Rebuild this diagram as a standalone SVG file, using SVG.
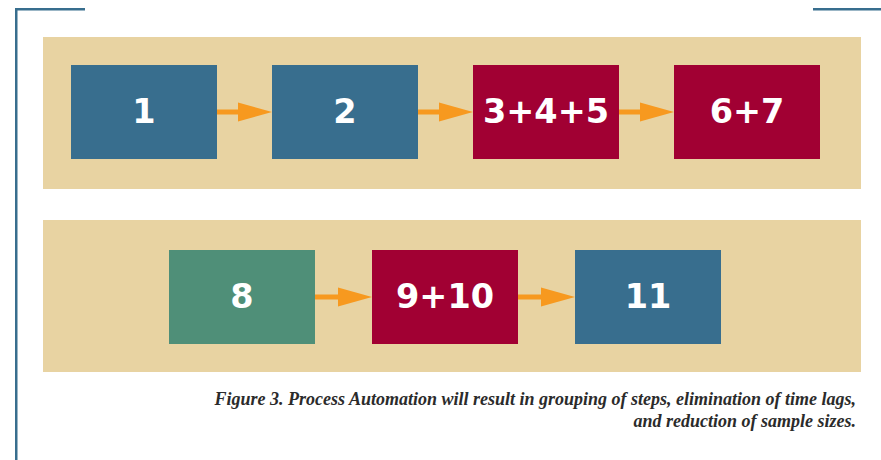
<svg xmlns="http://www.w3.org/2000/svg" width="881" height="460" viewBox="0 0 881 460">
<style>
.band{fill:#E8D3A2}
.blue{fill:#386E8E}
.red{fill:#A10033}
.green{fill:#4F8F78}
.lbl{font-family:"DejaVu Sans",sans-serif;font-weight:bold;font-size:33.5px;fill:#fff;text-anchor:middle}
.frame{fill:#386E8E}
.shaft{stroke:#F7991F;stroke-width:5;fill:none}
.head{fill:#F7991F}
.cap{font-family:"Liberation Serif",serif;font-weight:bold;font-style:italic;font-size:18px;fill:#2b2b2b;text-anchor:end}
</style>
<rect width="881" height="460" fill="#fff"/>
<g id="frame">
<rect class="frame" x="15" y="8" width="70" height="2.5"/>
<rect class="frame" x="15" y="8" width="2.5" height="452"/>
<rect class="frame" x="813" y="8" width="68" height="2.5"/>
</g>
<rect class="band" x="43" y="37" width="818" height="152"/>
<rect class="band" x="43" y="220" width="818" height="152"/>
<g id="connectors">
<line class="shaft" x1="217" y1="112" x2="240" y2="112"/><polygon class="head" points="238,102.5 272,112 238,121.5"/>
<line class="shaft" x1="418" y1="112" x2="441" y2="112"/><polygon class="head" points="439,102.5 473,112 439,121.5"/>
<line class="shaft" x1="619" y1="112" x2="642" y2="112"/><polygon class="head" points="640,102.5 674,112 640,121.5"/>
<line class="shaft" x1="315" y1="297" x2="340" y2="297"/><polygon class="head" points="338,287.5 372,297 338,306.5"/>
<line class="shaft" x1="518" y1="297" x2="543" y2="297"/><polygon class="head" points="541,287.5 575,297 541,306.5"/>
</g>
<g id="n1"><rect class="blue" x="71" y="65" width="146" height="94"/><text class="lbl" x="144" y="123">1</text></g>
<g id="n2"><rect class="blue" x="272" y="65" width="146" height="94"/><text class="lbl" x="345" y="123">2</text></g>
<g id="n3"><rect class="red" x="473" y="65" width="146" height="94"/><text class="lbl" x="546" y="123">3+4+5</text></g>
<g id="n4"><rect class="red" x="674" y="65" width="146" height="94"/><text class="lbl" x="747" y="123">6+7</text></g>
<g id="n5"><rect class="green" x="169" y="250" width="146" height="94"/><text class="lbl" x="242" y="308">8</text></g>
<g id="n6"><rect class="red" x="372" y="250" width="146" height="94"/><text class="lbl" x="445" y="308">9+10</text></g>
<g id="n7"><rect class="blue" x="575" y="250" width="146" height="94"/><text class="lbl" x="648" y="308">11</text></g>
<g id="caption">
<text class="cap" x="856" y="405">Figure 3. Process Automation will result in grouping of steps, elimination of time lags,</text>
<text class="cap" x="856" y="427">and reduction of sample sizes.</text>
</g>
</svg>
